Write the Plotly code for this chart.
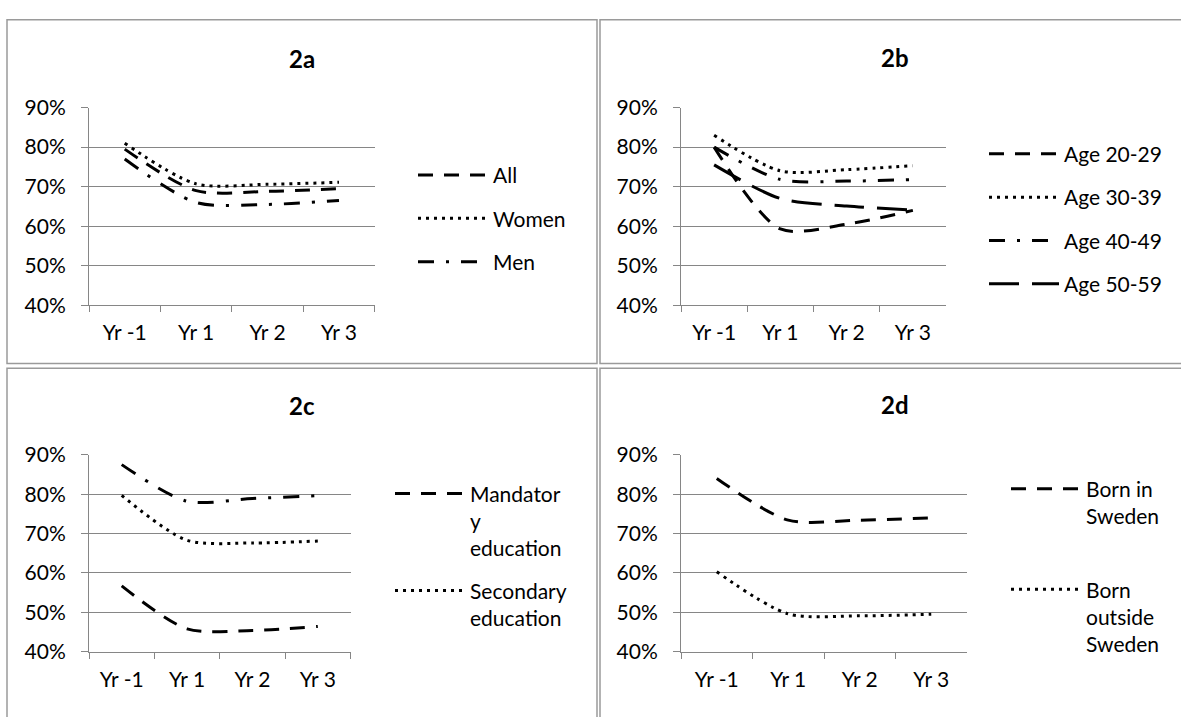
import plotly.graph_objects as go

W, H = 1181, 717

categories = ["Yr -1", "Yr 1", "Yr 2", "Yr 3"]
ytick_vals = [0.4, 0.5, 0.6, 0.7, 0.8, 0.9]

a_all = [0.795, 0.690, 0.688, 0.695]
a_women = [0.810, 0.707, 0.706, 0.711]
a_men = [0.770, 0.660, 0.655, 0.665]
b_20 = [0.800, 0.593, 0.605, 0.640]
b_30 = [0.830, 0.740, 0.743, 0.753]
b_40 = [0.800, 0.718, 0.714, 0.718]
b_50 = [0.755, 0.670, 0.651, 0.641]
c_mand = [0.567, 0.458, 0.454, 0.464]
c_sec = [0.797, 0.683, 0.676, 0.681]
c_high = [0.875, 0.782, 0.789, 0.796]
d_in = [0.840, 0.734, 0.734, 0.740]
d_out = [0.603, 0.496, 0.491, 0.495]

FONT = "Lato"
GRID = "#868686"

DASH = dict(dash="15px,11px", width=3)
DOT = dict(dash="3px,5px", width=3)
DASHDOT = dict(dash="16px,12px,3px,12px", width=3)
LONGDASH = dict(dash="30px,13px", width=3)

def px_x(p):
    return p / W

def px_y(p):
    return 1 - p / H

fig = go.Figure()

panels = [
    ("", "legend", [("All", a_all, DASH, True), ("Women", a_women, DOT, True), ("Men", a_men, DASHDOT, True)]),
    ("2", "legend2", [("Age 20-29", b_20, DASH, True), ("Age 30-39", b_30, DOT, True),
                      ("Age 40-49", b_40, DASHDOT, True), ("Age 50-59", b_50, LONGDASH, True)]),
    ("3", "legend3", [("Mandator<br>y<br>education", c_mand, DASH, True),
                      ("Secondary<br>education", c_sec, DOT, True),
                      ("Higher education", c_high, DASHDOT, False)]),
    ("4", "legend4", [("Born in<br>Sweden", d_in, DASH, True),
                      ("Born<br>outside<br>Sweden", d_out, DOT, True)]),
]

for suffix, leg, series in panels:
    for i, (name, vals, style, show) in enumerate(series):
        fig.add_trace(go.Scatter(
            x=categories, y=vals, name=name, mode="lines",
            line=dict(color="black", shape="spline", smoothing=0.8, **style),
            xaxis="x" + suffix, yaxis="y" + suffix,
            legend=leg, legendgroup=leg + str(i), showlegend=show,
            hoverinfo="skip",
        ))

geo = {
    "": (89, 374.7, 97, 301.7),
    "2": (681, 946, 97, 301.7),
    "3": (89, 350.5, 456.7, 660.7),
    "4": (681, 967, 456.7, 660.7),
}

FS = 21
layout = dict(
    width=W, height=H,
    margin=dict(l=0, r=0, t=0, b=0),
    paper_bgcolor="white", plot_bgcolor="white",
    font=dict(family=FONT, size=FS, color="black"),
    showlegend=True,
)

for suffix, (x0, x1, y0, y1) in geo.items():
    layout["xaxis" + suffix] = dict(
        domain=[px_x(x0), px_x(x1)], anchor="y" + suffix,
        type="category", range=[-0.5, 3.5],
        showline=True, linecolor=GRID, linewidth=1,
        ticks="outside", tickson="boundaries", ticklen=6, tickcolor=GRID,
        showgrid=False, zeroline=False, ticklabelstandoff=9,
        tickfont=dict(family=FONT, size=FS, color="black"),
        fixedrange=True,
    )
    layout["yaxis" + suffix] = dict(
        domain=[px_y(y1), px_y(y0)], anchor="x" + suffix,
        range=[0.4, 0.9], tickvals=ytick_vals, tickformat=".0%",
        showline=True, linecolor=GRID, linewidth=1,
        ticks="outside", ticklen=7, tickcolor=GRID,
        showgrid=True, gridcolor=GRID, gridwidth=1, zeroline=False,
        ticklabelstandoff=11,
        tickfont=dict(family=FONT, size=FS, color="black"),
        fixedrange=True,
    )

def legend_at(xtext, ytop, gap):
    return dict(
        x=px_x(xtext - 80), y=px_y(ytop), xanchor="left", yanchor="top",
        orientation="v", itemwidth=70, valign="top",
        tracegroupgap=gap, bgcolor="rgba(0,0,0,0)", borderwidth=0,
        font=dict(family=FONT, size=FS, color="black"),
        itemclick=False, itemdoubleclick=False,
    )

layout["legend"] = legend_at(493, 146, 13)
layout["legend2"] = legend_at(1064, 124, 13)
layout["legend3"] = legend_at(470, 476, 12)
layout["legend4"] = legend_at(1086, 471, 43)

titles = [("2a", 302, 46), ("2b", 894.6, 45), ("2c", 302, 406), ("2d", 894.6, 405)]
layout["annotations"] = [
    dict(text="<b>%s</b>" % t, x=px_x(x), y=px_y(y), xref="paper", yref="paper",
         xanchor="center", yanchor="middle", showarrow=False,
         font=dict(family=FONT, size=24, color="black"))
    for t, x, y in titles
]

BORDER = "#9a9a9a"
rects = [(7, 6, 597, 362), (600, 6, 1195, 362), (7, 367, 597, 730), (600, 367, 1195, 730)]
layout["shapes"] = [
    dict(type="rect", xref="paper", yref="paper",
         x0=px_x(a), x1=px_x(c), y0=px_y(d), y1=px_y(b),
         line=dict(color=BORDER, width=1.5), fillcolor="rgba(0,0,0,0)", layer="below")
    for a, b, c, d in rects
]

fig.update_layout(**layout)

pin = (
    "document.documentElement.style.margin='0';"
    "document.documentElement.style.overflow='hidden';"
    "document.body.style.margin='0';document.body.style.padding='0';"
    "document.body.style.overflow='hidden';"
    "var d=document.querySelector('.plotly-graph-div');"
    "d.style.position='fixed';d.style.left='0px';d.style.top='0px';"
)
fig.write_html("out.html", config={"displayModeBar": False, "staticPlot": True},
               post_script=pin)
